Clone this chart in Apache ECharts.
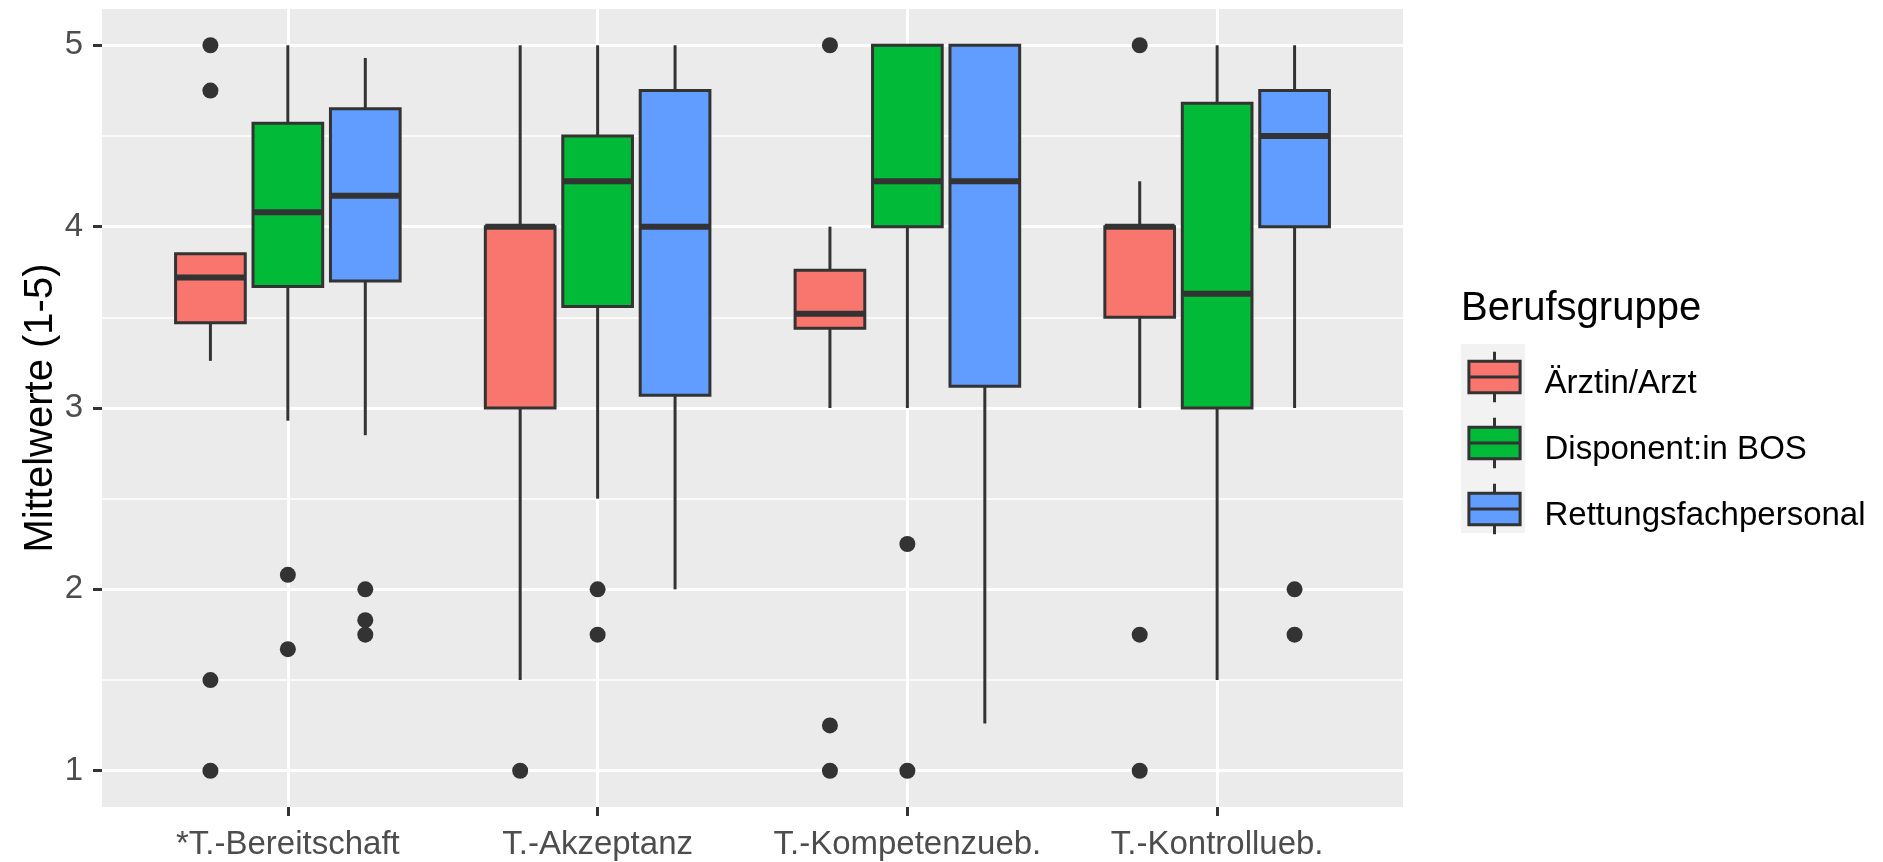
<!DOCTYPE html>
<html>
<head>
<meta charset="utf-8">
<script src="https://cdn.jsdelivr.net/npm/echarts@6/dist/echarts.min.js"></script>
<style>
    html, body { margin: 0; padding: 0; background: #ffffff; }
    #chart { width: 1883px; height: 862px; }
</style>
</head>
<body>
<div id="chart"></div>
<script>
// Kategorien auf der x-Achse
var kategorien = ['*T.-Bereitschaft', 'T.-Akzeptanz', 'T.-Kompetenzueb.', 'T.-Kontrollueb.'];
var gruppen = ['Ärztin/Arzt', 'Disponent:in BOS', 'Rettungsfachpersonal'];
var farben = ['#F8766D', '#00BA38', '#619CFF'];
var yTicks = [1, 2, 3, 4, 5];
var xTicks = [1, 2, 3, 4];

// [unterer Whisker, Q1, Median, Q3, oberer Whisker] je Kategorie
var arztBox = [
    [3.26, 3.47, 3.72, 3.85, 3.85],
    [1.5, 3.0, 4.0, 4.0, 5.0],
    [3.0, 3.44, 3.52, 3.76, 4.0],
    [3.0, 3.5, 4.0, 4.0, 4.25]
];
var dispBox = [
    [2.93, 3.67, 4.08, 4.57, 5.0],
    [2.5, 3.56, 4.25, 4.5, 5.0],
    [3.0, 4.0, 4.25, 5.0, 5.0],
    [1.5, 3.0, 3.63, 4.68, 5.0]
];
var rettBox = [
    [2.85, 3.70, 4.17, 4.65, 4.93],
    [2.0, 3.07, 4.0, 4.75, 5.0],
    [1.26, 3.12, 4.25, 5.0, 5.0],
    [3.0, 4.0, 4.5, 4.75, 5.0]
];

// Ausreisser je Kategorie
var arztAus = [[5, 4.75, 1.5, 1], [1], [5, 1.25, 1], [5, 1.75, 1]];
var dispAus = [[2.08, 1.67], [2, 1.75], [2.25, 1], []];
var rettAus = [[2, 1.83, 1.75], [], [], [2, 1.75]];

var boxDaten = [arztBox, dispBox, rettBox];
var ausDaten = [arztAus, dispAus, rettAus];

var schrift = "'Liberation Sans', Arial, sans-serif";
var dodge = 0.25;      // Abstand der Boxen innerhalb einer Kategorie
var boxBreite = 0.225;

var dom = document.getElementById('chart');
var myChart = echarts.init(dom, null, {renderer: 'canvas'});

function renderBox(params, api) {
    var x = api.value(0);
    var p = [1, 2, 3, 4, 5].map(function (d) {
        return api.coord([x, api.value(d)]);
    });
    var w = api.size([boxBreite, 0])[0];
    var cx = p[0][0];
    var linie = {stroke: '#333333', lineWidth: 3};
    return {
        type: 'group',
        children: [
            {type: 'line', shape: {x1: cx, y1: p[0][1], x2: cx, y2: p[1][1]}, style: linie},
            {type: 'line', shape: {x1: cx, y1: p[3][1], x2: cx, y2: p[4][1]}, style: linie},
            {
                type: 'rect',
                shape: {x: cx - w / 2, y: p[3][1], width: w, height: p[1][1] - p[3][1]},
                style: {fill: api.visual('color'), stroke: '#333333', lineWidth: 3}
            },
            {type: 'line', shape: {x1: cx - w / 2, y1: p[2][1], x2: cx + w / 2, y2: p[2][1]},
                style: {stroke: '#333333', lineWidth: 6}}
        ]
    };
}

var series = [];
gruppen.forEach(function (name, g) {
    var off = (g - 1) * dodge;
    series.push({
        name: name,
        type: 'custom',
        renderItem: renderBox,
        itemStyle: {color: farben[g]},
        encode: {x: 0, y: [1, 2, 3, 4, 5]},
        data: boxDaten[g].map(function (s, i) {
            return [i + 1 + off].concat(s);
        }),
        silent: true,
        z: 2
    });
});
gruppen.forEach(function (name, g) {
    var pts = [];
    ausDaten[g].forEach(function (werte, i) {
        werte.forEach(function (v) {
            pts.push([i + 1 + (g - 1) * dodge, v]);
        });
    });
    series.push({
        name: name + ' (Ausreißer)',
        type: 'scatter',
        symbol: 'circle',
        symbolSize: 16,
        itemStyle: {color: '#333333', opacity: 1},
        data: pts,
        silent: true,
        z: 3
    });
});

// Legendensymbol: kleine Box mit Median und Whiskern
var boxIcon = 'path://M0 0M77 63M6.4 15.75L57.6 15.75L57.6 47.25L6.4 47.25ZM6.4 31.5L57.6 31.5M32 6.3L32 15.75M32 47.25L32 56.7';

var option = {
    animation: false,
    backgroundColor: '#ffffff',
    title: {
        text: 'Berufsgruppe',
        left: 1461,
        top: 289,
        padding: 0,
        textStyle: {fontSize: 40, fontWeight: 'normal', color: '#000000', fontFamily: schrift}
    },
    legend: {
        orient: 'vertical',
        left: 1461,
        top: 344,
        padding: 0,
        itemGap: 0,
        itemWidth: 77,
        itemHeight: 63,
        selectedMode: false,
        data: gruppen.map(function (n) { return {name: n, icon: boxIcon}; }),
        itemStyle: {borderColor: '#333333', borderWidth: 3},
        formatter: '{t|{name}}',
        textStyle: {
            fontSize: 33, color: '#000000', fontFamily: schrift,
            rich: {t: {fontSize: 33, color: '#000000', fontFamily: schrift, padding: [14, 0, 0, 0]}}
        }
    },
    graphic: [{
        type: 'rect',
        left: 1461,
        top: 344,
        z: -1,
        shape: {width: 64, height: 189},
        style: {fill: '#F2F2F2'}
    }],
    grid: {
        left: 102,
        top: 9,
        width: 1301,
        height: 798,
        show: true,
        backgroundColor: '#EBEBEB',
        borderWidth: 0,
        containLabel: false,
        outerBoundsMode: 'none'
    },
    xAxis: {
        type: 'value',
        min: 0.4,
        max: 4.6,
        axisLine: {show: false},
        axisTick: {show: true, length: 9, customValues: xTicks, lineStyle: {color: '#333333', width: 3}},
        axisLabel: {
            customValues: xTicks,
            margin: 21,
            fontSize: 33,
            color: '#4D4D4D',
            fontFamily: schrift,
            formatter: function (v) { return kategorien[Math.round(v) - 1]; }
        },
        splitLine: {show: true, lineStyle: {color: '#ffffff', width: 3}}
    },
    yAxis: {
        type: 'value',
        min: 0.8,
        max: 5.2,
        name: 'Mittelwerte (1-5)',
        nameLocation: 'middle',
        nameGap: 41,
        nameMoveOverlap: false,
        nameTextStyle: {fontSize: 40, color: '#000000', fontFamily: schrift},
        axisLine: {show: false},
        axisTick: {show: true, length: 9, customValues: yTicks, lineStyle: {color: '#333333', width: 3}},
        axisLabel: {
            customValues: yTicks,
            margin: 19,
            fontSize: 33,
            color: '#4D4D4D',
            fontFamily: schrift,
            padding: [9, 0, 0, 0]
        },
        splitLine: {show: true, lineStyle: {color: '#ffffff', width: 3}},
        minorTick: {show: false, splitNumber: 2},
        minorSplitLine: {show: true, lineStyle: {color: '#ffffff', width: 1.5}}
    },
    series: series
};

myChart.setOption(option);
</script>
</body>
</html>
